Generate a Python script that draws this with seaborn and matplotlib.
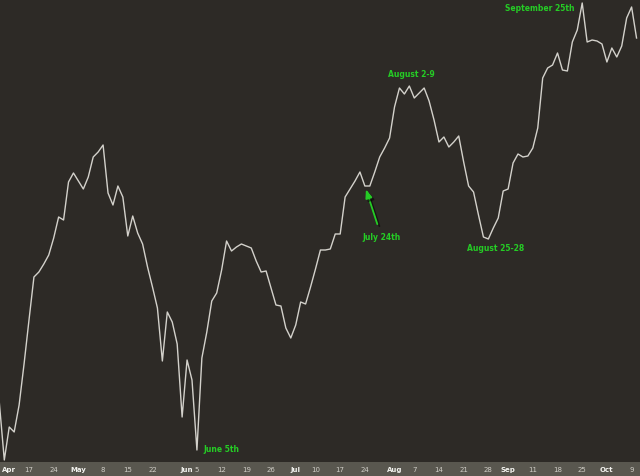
import pandas as pd
import matplotlib
matplotlib.use('Agg')
import matplotlib.pyplot as plt
import matplotlib.patheffects as pe
import seaborn as sns

# trading days from Apr 6 to Oct 10 2006 (market holidays removed)
holidays = ['2006-04-14', '2006-05-29', '2006-07-04', '2006-09-04']
dates = pd.bdate_range('2006-04-06', '2006-10-10')
dates = dates[~dates.isin(pd.to_datetime(holidays))]

# closing level, one value per trading day
close = [1057, 1000, 1033, 1028, 1055, 1096, 1140, 1183, 1188, 1196, 1205,
         1222, 1243, 1240, 1278, 1287, 1279, 1271, 1283, 1303, 1308, 1315,
         1267, 1255, 1274, 1263, 1224, 1244, 1227, 1216, 1193, 1173, 1152,
         1099, 1148, 1138, 1116, 1043, 1100, 1080, 1010, 1102, 1128, 1159,
         1167, 1190, 1219, 1209, 1213, 1216, 1214, 1212, 1199, 1188, 1189,
         1172, 1155, 1154, 1132, 1122, 1135, 1158, 1156, 1173, 1191, 1210,
         1210, 1211, 1226, 1226, 1263, 1271, 1279, 1288, 1274, 1274, 1288,
         1303, 1312, 1322, 1353, 1372, 1366, 1374, 1362, 1367, 1372, 1359,
         1340, 1318, 1323, 1313, 1318, 1324, 1298, 1274, 1268, 1245, 1223,
         1221, 1232, 1242, 1269, 1271, 1297, 1306, 1303, 1304, 1312, 1332,
         1382, 1392, 1395, 1407, 1390, 1389, 1418, 1430, 1457, 1418, 1420,
         1419, 1416, 1398, 1412, 1403, 1414, 1442, 1453, 1422]

notes = ['June 5th', 'July 24th', 'August 2-9', 'August 25-28', 'September 25th']

df = pd.DataFrame({'date': dates, 'close': close})
df['i'] = range(len(df))

bg = '#2d2a26'
strip = '#59574f'
green = '#25cc25'

fig = plt.figure(figsize=(6.4, 4.76), dpi=100, facecolor=strip)
ax = fig.add_axes([0, 14 / 476, 1, 462 / 476])
ax.set_facecolor(bg)

sns.lineplot(data=df, x='i', y='close', ax=ax, color='#d3d1cb', lw=1.0)

ax.set_xlim(0.13, 129.7)
ax.set_ylim(998, 1460)
ax.set_xlabel('')
ax.set_ylabel('')
ax.set_yticks([])
for s in ax.spines.values():
    s.set_visible(False)

# month ticks on first trading day of month, day ticks on mondays
month_starts = [k for k in range(1, len(df))
                if df['date'].iloc[k].month != df['date'].iloc[k - 1].month]
ticks = []
labels = []
bold = []
seen = set()
for k in range(1, len(df)):
    d = df['date'].iloc[k]
    if k in month_starts or (d.weekday() == 0 and (k + 1) not in month_starts):
        ticks.append(k)
        if d.month not in seen:
            labels.append(d.strftime('%b'))
            bold.append(True)
            seen.add(d.month)
        else:
            labels.append(str(d.day))
            bold.append(False)
ax.set_xticks(ticks)
ax.set_xticklabels(labels)
ax.tick_params(axis='x', length=0, pad=3.5, labelsize=5, labelcolor='#cfcdc6')
for t, b in zip(ax.get_xticklabels(), bold):
    if b:
        t.set_fontweight('bold')
        t.set_color('#f2f2ee')

def pos(day):
    row = df[df['date'] == pd.Timestamp(day)].iloc[0]
    return row['i'], row['close']

kw = dict(textcoords='offset pixels', color=green, fontsize=5.5,
          fontweight='bold', family='DejaVu Sans')

x, y = pos('2006-06-05')
ax.annotate(notes[0], (x, y), xytext=(6, 0), ha='left', va='center', **kw)

x, y = pos('2006-07-24')
ax.annotate(notes[1], (x, y), xytext=(17, -52), ha='center', va='center',
            arrowprops=dict(arrowstyle='-|>,head_length=0.9,head_width=0.35',
                            color=green, lw=1.3, shrinkA=5, shrinkB=2.5,
                            path_effects=[pe.SimpleLineShadow(offset=(1.5, -1.5), alpha=0.5), pe.Normal()]),
            **kw)

xa, ya = pos('2006-08-02')
xb, yb = pos('2006-08-09')
ax.annotate(notes[2], ((xa + xb) / 2, max(ya, yb)), xytext=(0, 13), ha='center', va='center', **kw)

xa, ya = pos('2006-08-25')
xb, yb = pos('2006-08-28')
ax.annotate(notes[3], ((xa + xb) / 2, min(ya, yb)), xytext=(10, -10), ha='center', va='center', **kw)

x, y = pos('2006-09-25')
ax.annotate(notes[4], (x, y), xytext=(-8, -6), ha='right', va='center', **kw)

fig.savefig('out.png', dpi=100, facecolor=strip)
